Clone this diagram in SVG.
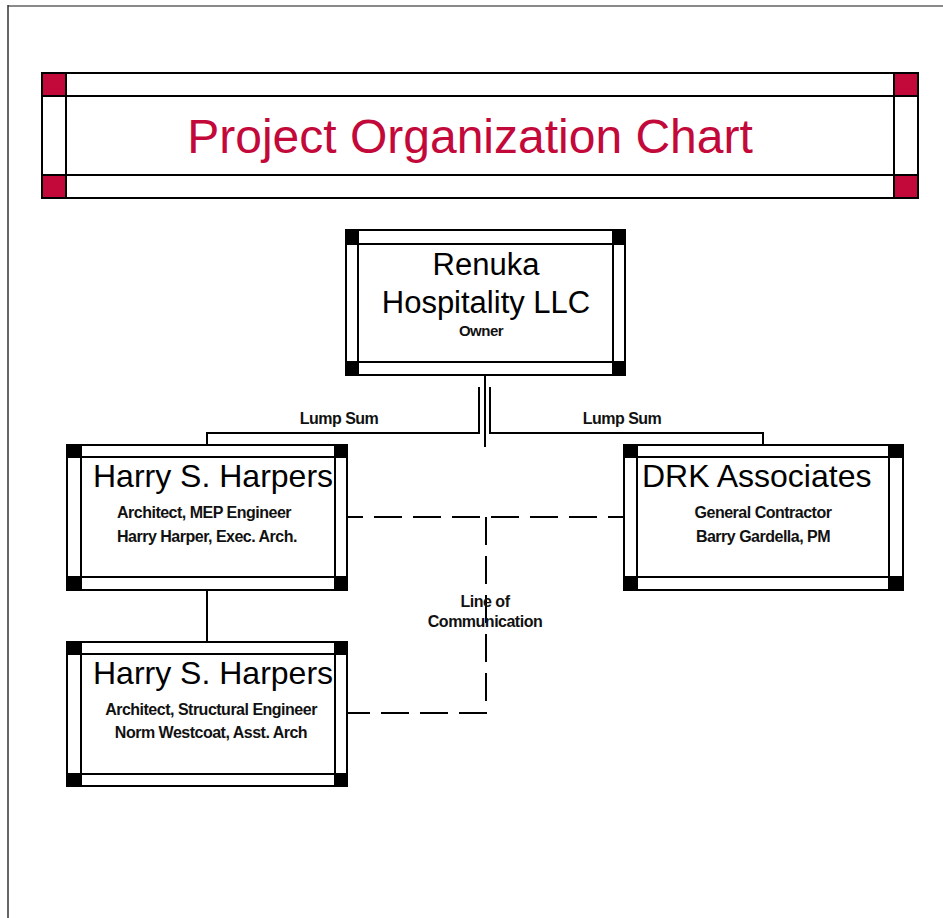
<svg xmlns="http://www.w3.org/2000/svg" width="943" height="918" viewBox="0 0 943 918">
  <style>
    .frame { fill: #ffffff; stroke: #000000; stroke-width: 2; }
    .rule { stroke: #000000; stroke-width: 2; fill: none; }
    .corner { fill: #000000; }
    .corner-red { fill: #C3083A; }
    .title { font-family: "Liberation Sans", Arial, sans-serif; font-size: 48px; fill: #C3083A; text-anchor: middle; }
    .big { font-family: "Liberation Sans", Arial, sans-serif; font-size: 32px; fill: #000000; }
    .small { font-family: "Liberation Sans", Arial, sans-serif; font-size: 16px; font-weight: bold; letter-spacing: -0.5px; fill: #111111; text-anchor: middle; }
    .link { stroke: #000000; stroke-width: 2; fill: none; }
    .comm { stroke: #000000; stroke-width: 2; fill: none; stroke-dasharray: 28 11; }
  </style>

  <!-- page background and sheet edge -->
  <rect x="0" y="0" width="943" height="918" fill="#ffffff"/>
  <line x1="8" y1="6" x2="943" y2="6" stroke="#8a8a8a" stroke-width="2"/>
  <line x1="8" y1="5" x2="8" y2="918" stroke="#333333" stroke-width="1.5"/>

  <!-- title banner -->
  <g id="title-banner">
    <rect class="frame" x="42" y="73" width="876" height="125"/>
    <line class="rule" x1="42" y1="96" x2="918" y2="96"/>
    <line class="rule" x1="42" y1="175" x2="918" y2="175"/>
    <line class="rule" x1="66" y1="73" x2="66" y2="198"/>
    <line class="rule" x1="894" y1="73" x2="894" y2="198"/>
    <rect class="corner-red" x="43" y="74" width="22" height="21"/>
    <rect class="corner-red" x="895" y="74" width="22" height="21"/>
    <rect class="corner-red" x="43" y="176" width="22" height="21"/>
    <rect class="corner-red" x="895" y="176" width="22" height="21"/>
    <text class="title" x="470" y="153">Project Organization Chart</text>
  </g>

  <!-- connectors -->
  <g id="connectors">
    <line class="link" x1="485" y1="375" x2="485" y2="447"/>
    <polyline class="link" points="479,387 479,433 207,433 207,445"/>
    <polyline class="link" points="490,387 490,433 763,433 763,445"/>
    <line class="link" x1="207" y1="590" x2="207" y2="642"/>
    <line class="comm" x1="347" y1="517" x2="624" y2="517" stroke-dashoffset="12"/>
    <polyline class="comm" points="486,517 486,713 347,713"/>
    <text class="small" x="339" y="424">Lump Sum</text>
    <text class="small" x="622" y="424">Lump Sum</text>
    <text class="small" x="485" y="607">Line of</text>
    <text class="small" x="485" y="627">Communication</text>
  </g>

  <!-- owner -->
  <g id="node-owner">
    <rect class="frame" x="346" y="230" width="279" height="145"/>
    <line class="rule" x1="346" y1="244" x2="625" y2="244"/>
    <line class="rule" x1="346" y1="362" x2="625" y2="362"/>
    <line class="rule" x1="358" y1="230" x2="358" y2="375"/>
    <line class="rule" x1="613" y1="230" x2="613" y2="375"/>
    <rect class="corner" x="346" y="230" width="12" height="14"/>
    <rect class="corner" x="613" y="230" width="12" height="14"/>
    <rect class="corner" x="346" y="362" width="12" height="13"/>
    <rect class="corner" x="613" y="362" width="12" height="13"/>
    <text class="big" x="486" y="275" text-anchor="middle" style="font-size:31px">Renuka</text>
    <text class="big" x="486" y="313" text-anchor="middle" style="font-size:31px">Hospitality LLC</text>
    <text class="small" x="481" y="336" style="font-size:15px">Owner</text>
  </g>

  <!-- architect / MEP -->
  <g id="node-architect-mep">
    <rect class="frame" x="67" y="445" width="280" height="145"/>
    <line class="rule" x1="67" y1="457" x2="347" y2="457"/>
    <line class="rule" x1="67" y1="577" x2="347" y2="577"/>
    <line class="rule" x1="81" y1="445" x2="81" y2="590"/>
    <line class="rule" x1="335" y1="445" x2="335" y2="590"/>
    <rect class="corner" x="67" y="445" width="14" height="12"/>
    <rect class="corner" x="335" y="445" width="12" height="12"/>
    <rect class="corner" x="67" y="577" width="14" height="13"/>
    <rect class="corner" x="335" y="577" width="12" height="13"/>
    <text class="big" x="93" y="487">Harry S. Harpers</text>
    <text class="small" x="204" y="518">Architect, MEP Engineer</text>
    <text class="small" x="207" y="542">Harry Harper, Exec. Arch.</text>
  </g>

  <!-- general contractor -->
  <g id="node-contractor">
    <rect class="frame" x="624" y="445" width="279" height="145"/>
    <line class="rule" x1="624" y1="457" x2="903" y2="457"/>
    <line class="rule" x1="624" y1="577" x2="903" y2="577"/>
    <line class="rule" x1="637" y1="445" x2="637" y2="590"/>
    <line class="rule" x1="889" y1="445" x2="889" y2="590"/>
    <rect class="corner" x="624" y="445" width="13" height="12"/>
    <rect class="corner" x="889" y="445" width="14" height="12"/>
    <rect class="corner" x="624" y="577" width="13" height="13"/>
    <rect class="corner" x="889" y="577" width="14" height="13"/>
    <text class="big" x="642" y="487">DRK Associates</text>
    <text class="small" x="763" y="518">General Contractor</text>
    <text class="small" x="763" y="542">Barry Gardella, PM</text>
  </g>

  <!-- architect / structural -->
  <g id="node-architect-structural">
    <rect class="frame" x="67" y="642" width="280" height="144"/>
    <line class="rule" x1="67" y1="654" x2="347" y2="654"/>
    <line class="rule" x1="67" y1="774" x2="347" y2="774"/>
    <line class="rule" x1="81" y1="642" x2="81" y2="786"/>
    <line class="rule" x1="335" y1="642" x2="335" y2="786"/>
    <rect class="corner" x="67" y="642" width="14" height="12"/>
    <rect class="corner" x="335" y="642" width="12" height="12"/>
    <rect class="corner" x="67" y="774" width="14" height="12"/>
    <rect class="corner" x="335" y="774" width="12" height="12"/>
    <text class="big" x="93" y="684">Harry S. Harpers</text>
    <text class="small" x="211" y="715">Architect, Structural Engineer</text>
    <text class="small" x="211" y="738">Norm Westcoat, Asst. Arch</text>
  </g>
</svg>
